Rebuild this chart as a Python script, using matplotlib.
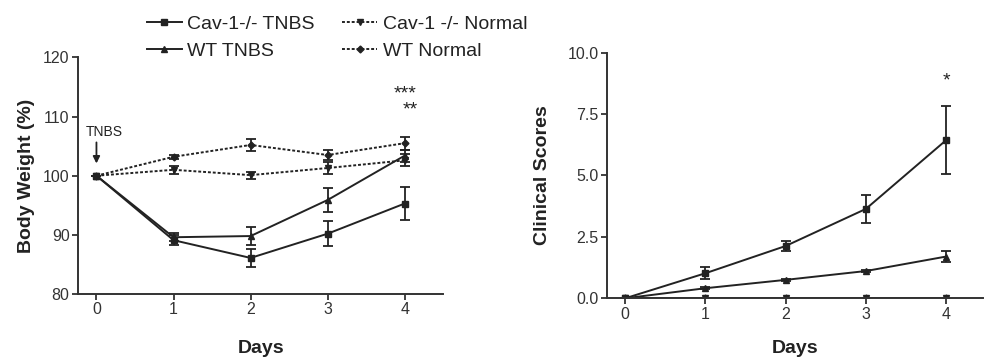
import matplotlib
matplotlib.use("Agg")
import matplotlib.pyplot as plt
from matplotlib.lines import Line2D

plt.rcParams['font.family'] = ['Liberation Sans', 'DejaVu Sans']

days = [0, 1, 2, 3, 4]

# body weight (%)
bw_cav_tnbs = [100, 89.1, 86.1, 90.2, 95.3]
bw_cav_tnbs_err = [0, 0.8, 1.5, 2.1, 2.8]
bw_wt_tnbs = [100, 89.6, 89.8, 95.9, 103.4]
bw_wt_tnbs_err = [0, 0.7, 1.5, 2.1, 1.0]
bw_cav_norm = [100, 101.0, 100.1, 101.3, 102.6]
bw_cav_norm_err = [0, 0.7, 0.6, 1.0, 1.0]
bw_wt_norm = [100, 103.2, 105.2, 103.5, 105.5]
bw_wt_norm_err = [0, 0.3, 1.0, 0.9, 1.1]

# clinical scores
cs_cav_tnbs = [0, 1.02, 2.13, 3.64, 6.44]
cs_cav_tnbs_err = [0, 0.25, 0.2, 0.58, 1.37]
cs_wt_tnbs = [0, 0.41, 0.75, 1.11, 1.70]
cs_wt_tnbs_err = [0, 0.03, 0.03, 0.04, 0.22]
cs_cav_norm = [0, 0, 0, 0, 0]
cs_wt_norm = [0, 0, 0, 0, 0]

labels = ['Cav-1-/- TNBS', 'WT TNBS', 'Cav-1 -/- Normal', 'WT Normal']

fig = plt.figure(figsize=(9.93, 3.62), dpi=100)
ax1 = fig.add_axes([0.0785, 0.1878, 0.3679, 0.6536])
ax2 = fig.add_axes([0.611, 0.176, 0.379, 0.6784])

dot = (0, (1.5, 1.0))
kw = dict(color='#222222', lw=1.4, capsize=3.5, elinewidth=1.3, capthick=1.3)

ax1.errorbar(days, bw_cav_norm, yerr=bw_cav_norm_err, marker='v', ms=5, ls=dot, **kw)
ax1.errorbar(days, bw_wt_norm, yerr=bw_wt_norm_err, marker='D', ms=3.5, ls=dot, **kw)
ax1.errorbar(days, bw_wt_tnbs, yerr=bw_wt_tnbs_err, marker='^', ms=5, ls='-', **kw)
ax1.errorbar(days, bw_cav_tnbs, yerr=bw_cav_tnbs_err, marker='s', ms=5, ls='-', **kw)

ax2.errorbar(days, cs_wt_norm, marker='D', ms=3.5, ls=dot, **kw)
ax2.errorbar(days, cs_cav_norm, marker='v', ms=5, ls='-', **kw)
ax2.errorbar(days, cs_wt_tnbs, yerr=cs_wt_tnbs_err, marker='^', ms=5, ls='-', **kw)
ax2.errorbar(days, cs_cav_tnbs, yerr=cs_cav_tnbs_err, marker='s', ms=5, ls='-', **kw)

for ax in (ax1, ax2):
    ax.spines['top'].set_visible(False)
    ax.spines['right'].set_visible(False)
    for s in ('left', 'bottom'):
        ax.spines[s].set_linewidth(1.4)
        ax.spines[s].set_color('#333333')
    ax.set_xticks(days)
    ax.tick_params(labelsize=11.5, width=1.3, length=4, pad=2, color='#333333', labelcolor='#333333')

ax1.set_xlim(-0.24, 4.5)
ax1.set_ylim(80, 120)
ax1.set_yticks([80, 90, 100, 110, 120])
ax1.set_ylabel('Body Weight (%)', fontsize=14, fontweight='bold', color='#222222', labelpad=6)
ax1.set_xlabel('Days', fontsize=14, fontweight='bold', color='#222222', labelpad=16)

ax2.set_xlim(-0.23, 4.46)
ax2.set_ylim(0, 10)
ax2.set_yticks([0, 2.5, 5.0, 7.5, 10.0])
ax2.set_yticklabels(['0.0', '2.5', '5.0', '7.5', '10.0'])
ax2.set_ylabel('Clinical Scores', fontsize=14, fontweight='bold', color='#222222', labelpad=12)
ax2.set_xlabel('Days', fontsize=14, fontweight='bold', color='#222222', labelpad=13)

# annotations
ax1.text(0.1, 107.4, 'TNBS', ha='center', va='center', fontsize=10, color='#222222')
ax1.annotate('', xy=(0, 101.6), xytext=(0, 106.1),
             arrowprops=dict(arrowstyle='-|>', color='#222222', lw=1.3, mutation_scale=10))
ax1.text(4.0, 113.1, '***', ha='center', va='baseline', fontsize=14, color='#222222')
ax1.text(4.07, 110.4, '**', ha='center', va='baseline', fontsize=14, color='#222222')
ax2.text(4.0, 8.65, '*', ha='center', va='baseline', fontsize=14, color='#222222')

handles = [
    Line2D([], [], color='#222222', lw=1.4, marker='s', ms=5, ls='-'),
    Line2D([], [], color='#222222', lw=1.4, marker='^', ms=5, ls='-'),
    Line2D([], [], color='#222222', lw=1.4, marker='v', ms=5, ls=dot),
    Line2D([], [], color='#222222', lw=1.4, marker='D', ms=3.5, ls=dot),
]
fig.legend(handles, labels, ncol=2, loc='upper left', bbox_to_anchor=(0.13, 1.005),
           frameon=False, fontsize=14, handlelength=1.8, handletextpad=0.3,
           columnspacing=1.4, labelspacing=0.45, labelcolor='#222222')

fig.savefig('out.png', dpi=100)
